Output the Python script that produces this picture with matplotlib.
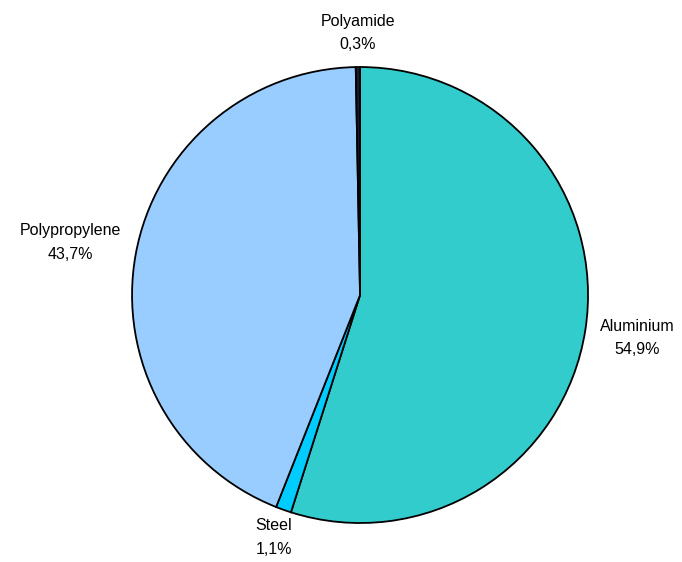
import numpy as np
import matplotlib.pyplot as plt

materials = ['Aluminium', 'Steel', 'Polypropylene', 'Polyamide']
shares = [54.9, 1.1, 43.7, 0.3]
labels = ['54,9%', '1,1%', '43,7%', '0,3%']
colors = ['#33CCCC', '#00CCFF', '#99CCFF', '#1a1a33']
label_dist = [1.23, 1.13, 1.29, 1.15]

fig = plt.figure(figsize=(6.82, 5.62), dpi=100)
ax = fig.add_axes([0, 0, 1, 1])

wedges, _ = ax.pie(shares, colors=colors, startangle=90, counterclock=False,
                   radius=1.0, wedgeprops=dict(edgecolor='black', linewidth=1.3))

for w, name, pct, d in zip(wedges, materials, labels, label_dist):
    ang = np.deg2rad((w.theta1 + w.theta2) / 2)
    x, y = d * np.cos(ang), d * np.sin(ang)
    ax.text(x, y, name + '\n' + pct, ha='center', va='center',
            fontsize=11.5, family='Liberation Sans', linespacing=1.7)

ax.set_xlim(-1.579, 1.412)
ax.set_ylim(-1.171, 1.294)
ax.set_aspect('equal')
ax.axis('off')

fig.savefig('out.png', dpi=100)
